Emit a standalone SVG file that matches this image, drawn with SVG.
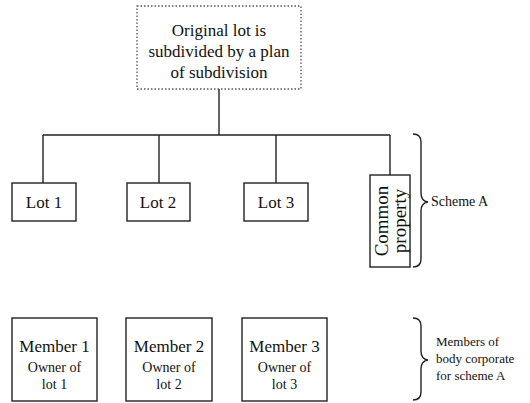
<svg xmlns="http://www.w3.org/2000/svg" width="530" height="403" viewBox="0 0 530 403">
<style>
.box{fill:#fff;stroke:#222;stroke-width:1.4}
.dot{fill:#fff;stroke:#555;stroke-width:1.3;stroke-dasharray:1.5 2}
.ln{fill:none;stroke:#222;stroke-width:1.4}
.t{font-family:"Liberation Serif","Times New Roman",serif;fill:#111;text-anchor:middle}
.l{font-family:"Liberation Serif","Times New Roman",serif;fill:#111}
</style>
<rect width="530" height="403" fill="#fff"/>
<g id="connectors">
<path class="ln" d="M219 89V135M43 135H390M43 135V183M159 135V183M276 135V183M390 135V175"/>
</g>
<g id="original">
<rect class="dot" x="137" y="6" width="164" height="83"/>
<text class="t" x="219" y="36" font-size="17">Original lot is</text>
<text class="t" x="219" y="57" font-size="17">subdivided by a plan</text>
<text class="t" x="219" y="78" font-size="17">of subdivision</text>
</g>
<g id="lot1">
<rect class="box" x="12" y="183" width="64" height="38"/>
<text class="t" x="44" y="208" font-size="17">Lot 1</text>
</g>
<g id="lot2">
<rect class="box" x="127" y="183" width="63" height="38"/>
<text class="t" x="158" y="208" font-size="17">Lot 2</text>
</g>
<g id="lot3">
<rect class="box" x="244" y="183" width="64" height="38"/>
<text class="t" x="276" y="208" font-size="17">Lot 3</text>
</g>
<g id="common">
<rect class="box" x="370" y="175" width="40" height="92"/>
<text class="t" font-size="19" transform="translate(391 221) rotate(-90)"><tspan x="0" y="-3">Common</tspan><tspan x="0" y="15">property</tspan></text>
</g>
<g id="schemeA">
<path class="ln" d="M413 134Q421 134 421 142V193Q421 201 428 202Q421 203 421 211V259Q421 267 413 267"/>
<text class="l" x="431" y="206" font-size="14">Scheme A</text>
</g>
<g id="member1">
<rect class="box" x="12" y="318" width="85" height="83"/>
<text class="t" x="54.5" y="352" font-size="17">Member 1</text>
<text class="t" x="54.5" y="372" font-size="14">Owner of</text>
<text class="t" x="54.5" y="389" font-size="14">lot 1</text>
</g>
<g id="member2">
<rect class="box" x="126" y="318" width="86" height="83"/>
<text class="t" x="169" y="352" font-size="17">Member 2</text>
<text class="t" x="169" y="372" font-size="14">Owner of</text>
<text class="t" x="169" y="389" font-size="14">lot 2</text>
</g>
<g id="member3">
<rect class="box" x="242" y="318" width="85" height="83"/>
<text class="t" x="284.5" y="352" font-size="17">Member 3</text>
<text class="t" x="284.5" y="372" font-size="14">Owner of</text>
<text class="t" x="284.5" y="389" font-size="14">lot 3</text>
</g>
<g id="membersA">
<path class="ln" d="M413 318Q421 318 421 326V351Q421 359 428 360Q421 361 421 369V392Q421 400 413 400"/>
<text class="l" x="436" y="346" font-size="13">Members of</text>
<text class="l" x="436" y="363" font-size="13">body corporate</text>
<text class="l" x="436" y="380" font-size="13">for scheme A</text>
</g>
</svg>
